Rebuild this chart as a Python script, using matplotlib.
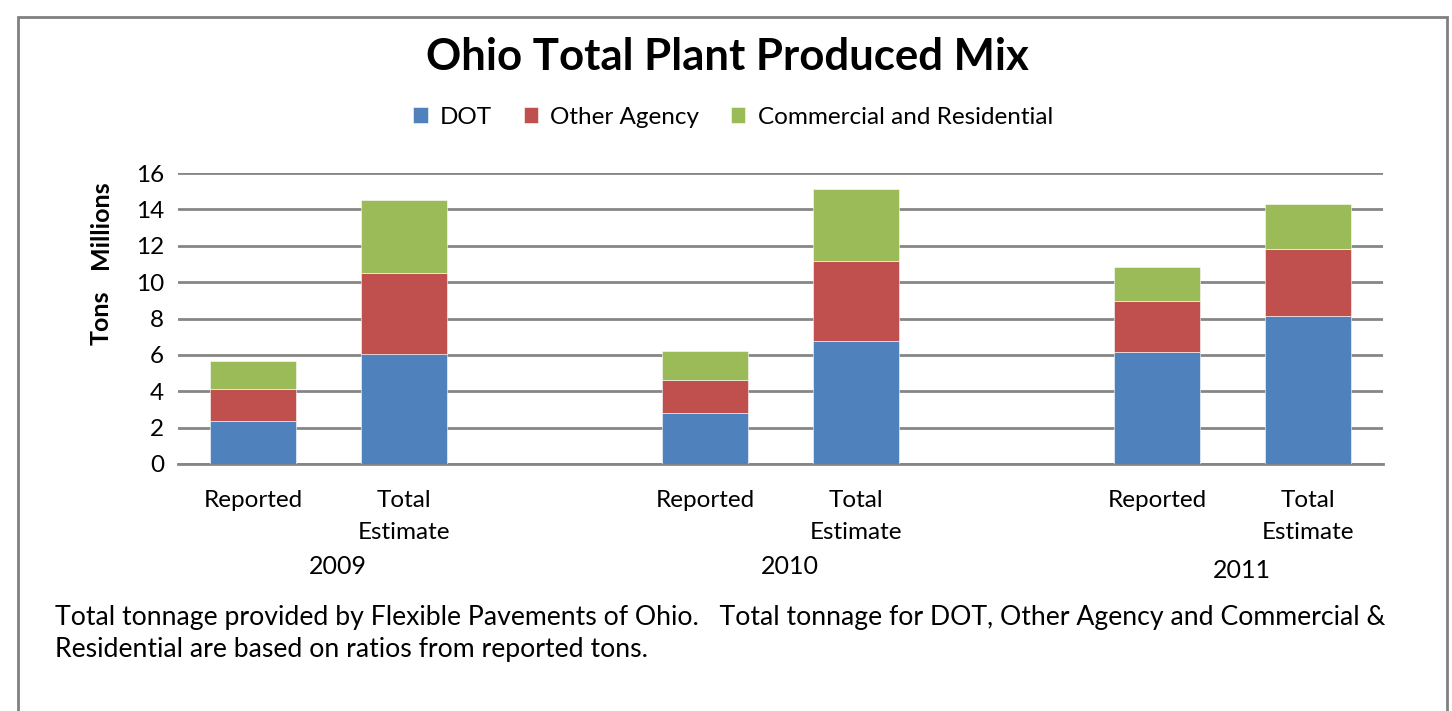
import matplotlib.pyplot as plt
from matplotlib.patches import Rectangle

plt.rcParams['font.family'] = ['Lato', 'DejaVu Sans']

# data (millions of tons)
years = ['2009', '2010', '2011']
kinds = ['Reported', 'Total\nEstimate']
dot = [2.36, 6.05, 2.80, 6.76, 6.16, 8.14]
other = [1.76, 4.45, 1.82, 4.40, 2.80, 3.68]
comm = [1.54, 4.00, 1.59, 3.96, 1.87, 2.47]
series = ['DOT', 'Other Agency', 'Commercial and Residential']
colors = ['#4f81bd', '#c0504d', '#9bbb59']

# slot positions: two bars per year, one empty slot between years
pos = []
for g in range(len(years)):
    pos += [g * 3, g * 3 + 1]

fig = plt.figure(figsize=(14.52, 7.11), dpi=100)
ax = fig.add_axes([178 / 1452, 1 - 464 / 711, (1383 - 178) / 1452, (464 - 173) / 711])

bottom = [0] * len(pos)
for vals, name, c in zip([dot, other, comm], series, colors):
    ax.bar(pos, vals, width=0.57, bottom=bottom, color=c, label=name, zorder=3,
           edgecolor='white', linewidth=0.4)
    bottom = [b + v for b, v in zip(bottom, vals)]

ax.set_xlim(-0.5, 7.5)
ax.set_ylim(0, 16)
ax.set_yticks(range(0, 17, 2))
ax.yaxis.grid(True, color='#868686', linewidth=2, zorder=0)
for s in ['top', 'right', 'left']:
    ax.spines[s].set_visible(False)
ax.spines['bottom'].set_color('#868686')
ax.spines['bottom'].set_linewidth(2)
ax.tick_params(axis='y', length=0, labelsize=17.5, pad=10)
ax.set_xticks(pos)
ax.set_xticklabels(kinds * len(years), fontsize=17.5, va='top', linespacing=1.62)
ax.tick_params(axis='x', length=0, pad=19)

# year labels (Excel puts them slightly right of the group centre)
year_y = [566, 566, 571]
for g, yr in enumerate(years):
    xc = ax.transData.transform((g * 3 + 0.56, 0))[0]
    fig.text(xc / 1452, 1 - year_y[g] / 711, yr, ha='center', va='center', fontsize=18)

fig.text(101 / 1452, 1 - 318 / 711, 'Tons', rotation=90, ha='center', va='center',
         fontsize=18, fontweight='bold')
fig.text(101 / 1452, 1 - 225 / 711, 'Millions', rotation=90, ha='center', va='center',
         fontsize=18, fontweight='bold')

fig.text(727 / 1452, 1 - 57 / 711, 'Ohio Total Plant Produced Mix', ha='center', va='center',
         fontsize=31.5, fontweight='bold')

ax.legend(loc='center', bbox_to_anchor=(733 / 1452, 1 - 117 / 711),
          bbox_transform=fig.transFigure, ncol=3, frameon=False, fontsize=17.5,
          handlelength=0.6, handleheight=0.6, handletextpad=0.5, columnspacing=1.3)

fig.text(55 / 1452, 1 - 617 / 711,
         'Total tonnage provided by Flexible Pavements of Ohio.   Total tonnage for DOT, '
         'Other Agency and Commercial &', ha='left', va='center', fontsize=19.2)
fig.text(55 / 1452, 1 - 650 / 711, 'Residential are based on ratios from reported tons.',
         ha='left', va='center', fontsize=19.2)

# outer frame of the chart
fig.patches.append(Rectangle((18 / 1452, -0.05), (1447 - 18) / 1452, 1.05 - 17 / 711,
                             transform=fig.transFigure, fill=False, edgecolor='#808080',
                             linewidth=2))

fig.savefig('out.png', dpi=100)
